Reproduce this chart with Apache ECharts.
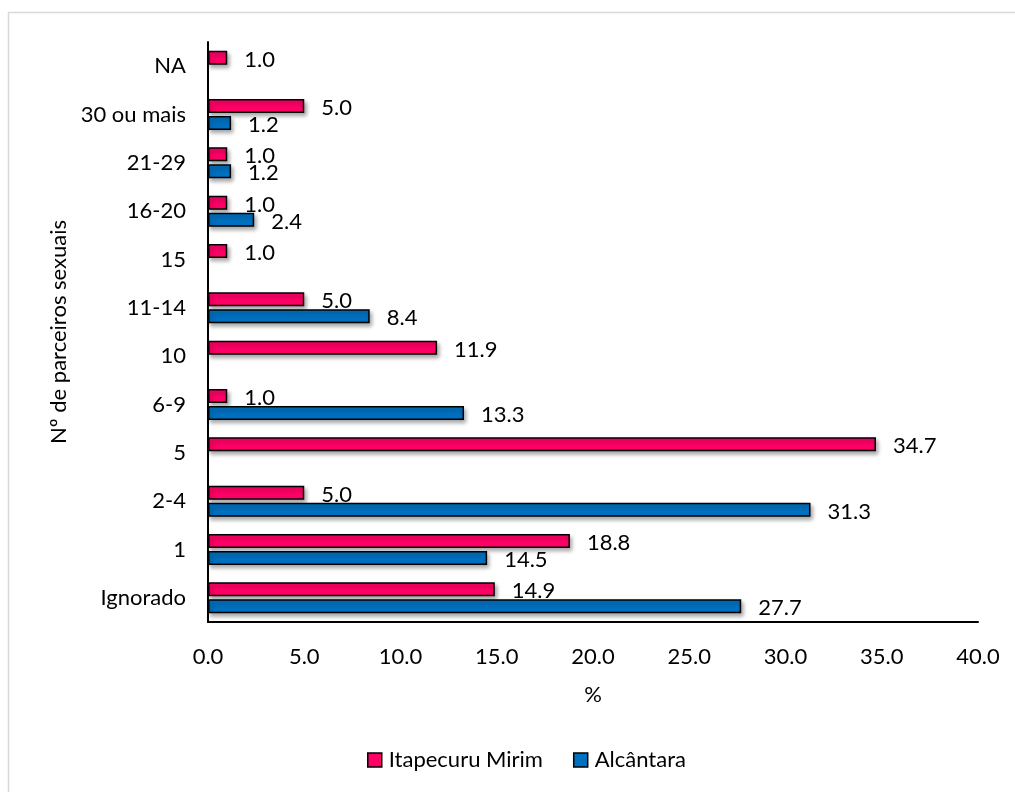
<!DOCTYPE html>
<html>
<head>
<meta charset="utf-8">
<script src="https://cdn.jsdelivr.net/npm/echarts@6/dist/echarts.min.js"></script>
<style>
  html, body { margin: 0; padding: 0; background: #fff; }
  #chart { width: 1015px; height: 792px; }
</style>
</head>
<body>
<div id="chart"></div>
<script>
// Number of sexual partners, share (%) per municipality
const categories = ['Ignorado', '1', '2-4', '5', '6-9', '10', '11-14', '15', '16-20', '21-29', '30 ou mais', 'NA'];
const itapecuruMirim = [14.9, 18.8, 5.0, 34.7, 1.0, 11.9, 5.0, 1.0, 1.0, 1.0, 5.0, 1.0];
const alcantara = [27.7, 14.5, 31.3, null, 13.3, null, 8.4, null, 2.4, 1.2, 1.2, null];
const xTicks = { min: 0, max: 40, interval: 5 };

const FONT = 'Lato, "Noto Sans", sans-serif';
const FS = 22;
const chart = echarts.init(document.getElementById('chart'), null, { renderer: 'canvas' });

function barSeries(name, data, color) {
  return {
    name: name,
    type: 'bar',
    data: data,
    barWidth: 14,
    barGap: '22%',
    itemStyle: {
      color: color,
      borderColor: '#000',
      borderWidth: 1.5,
      shadowColor: 'rgba(0,0,0,0.35)',
      shadowBlur: 4,
      shadowOffsetX: 2,
      shadowOffsetY: 3
    },
    label: {
      show: true,
      position: 'right',
      distance: 17,
      offset: [0, 2],
      color: '#000',
      fontFamily: FONT,
      fontSize: FS,
      formatter: p => (p.value == null ? '' : Number(p.value).toFixed(1))
    }
  };
}

chart.setOption({
  animation: false,
  textStyle: { fontFamily: FONT },
  graphic: [{
    type: 'rect',
    shape: { x: 8.5, y: 12.5, width: 1020, height: 800 },
    style: { fill: 'none', stroke: '#d9d9d9', lineWidth: 1.5 },
    silent: true
  }],
  grid: { left: 208, right: 37, top: 42, bottom: 170 },
  legend: {
    bottom: 16,
    left: 362,
    itemWidth: 14,
    itemHeight: 14,
    itemGap: 30,
    icon: 'rect',
    textStyle: { fontSize: FS, color: '#000', fontFamily: FONT, padding: [0, 0, 0, 2] },
    itemStyle: { borderColor: '#000', borderWidth: 1.5 },
    data: ['Itapecuru Mirim', 'Alcântara']
  },
  xAxis: {
    type: 'value',
    min: xTicks.min,
    max: xTicks.max,
    interval: xTicks.interval,
    name: '%',
    nameLocation: 'middle',
    nameGap: 62,
    nameTextStyle: { fontSize: FS, color: '#000', fontFamily: FONT },
    axisLine: { show: true, lineStyle: { color: '#000', width: 2 } },
    axisTick: { show: false },
    splitLine: { show: false },
    axisLabel: {
      color: '#000', fontSize: FS, fontFamily: FONT, margin: 24,
      formatter: v => v.toFixed(1)
    }
  },
  yAxis: {
    type: 'category',
    data: categories,
    name: 'Nº de parceiros sexuais',
    nameLocation: 'middle',
    nameGap: 132,
    nameRotate: 90,
    nameTextStyle: { fontSize: FS, color: '#000', fontFamily: FONT },
    axisLine: { show: true, lineStyle: { color: '#000', width: 2 } },
    axisTick: { show: false },
    axisLabel: { color: '#000', fontSize: FS, fontFamily: FONT, margin: 22 }
  },
  series: [
    barSeries('Itapecuru Mirim', itapecuruMirim, '#FF0066'),
    barSeries('Alcântara', alcantara, '#0070C0')
  ]
});
</script>
</body>
</html>
